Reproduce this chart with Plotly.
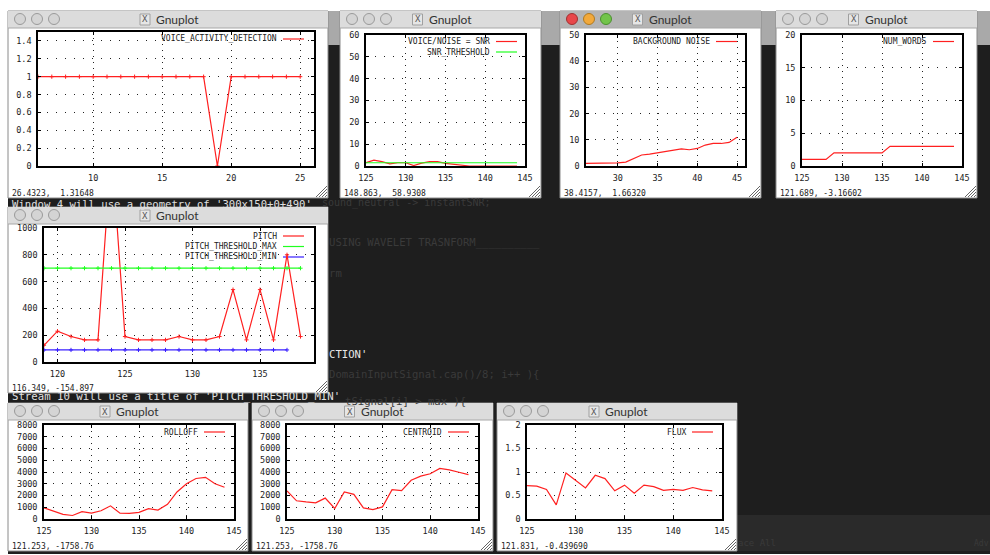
import plotly.graph_objects as go

W, H = 990, 555

# ---- data ----
vad_x = list(range(6, 26))
vad_y = [1] * 13 + [0] + [1] * 6

snr_x = list(range(125, 145))
snr_y = [1.5, 2.7, 2.0, 1.0, 1.5, 1.5, 0.2, 1.3, 2.0, 2.0, 1.2, 0.8, 0.7, 0, 0, 0, 0, 0, 0, 0]
snr_thr = [1.5] * 20

noise_x = list(range(26, 46))
noise_y = [1, 1, 1.2, 1.2, 1.2, 1.5, 2.9, 4.2, 4.5, 5, 5.5, 6, 6.5, 6.2, 6.7, 8, 8.6, 8.6, 9, 11]

words_x = list(range(125, 145))
words_y = [1, 1, 1, 1, 2, 2, 2, 2, 2, 2, 2, 3, 3, 3, 3, 3, 3, 3, 3, 3]

pitch_x = list(range(119, 139))
pitch_y = [125, 230, 190, 165, 165, 1600, 190, 165, 165, 165, 190, 165, 165, 190, 540, 165, 540, 165, 800, 190]
pitch_max = [700] * 20
pitch_min_x = list(range(119, 138))
pitch_min = [90] * 19

spec_x = list(range(125, 145))
rolloff = [950, 700, 400, 300, 620, 500, 700, 1120, 500, 480, 560, 880, 760, 1250, 2300, 3000, 3450, 3550, 3000, 2700]
centroid = [2400, 1550, 1450, 1380, 1780, 900, 2300, 2100, 950, 800, 1030, 2500, 2420, 3300, 3650, 3850, 4300, 4180, 3980, 3780]
flux = [0.71, 0.70, 0.63, 0.30, 0.98, 0.82, 0.66, 0.93, 0.86, 0.60, 0.72, 0.55, 0.72, 0.69, 0.61, 0.63, 0.61, 0.67, 0.62, 0.60]

RED, GREEN, BLUE = "#ff2020", "#20ff20", "#3a20ff"
MONO = "DejaVu Sans Mono"

fig = go.Figure()
shapes, annots = [], []


def px(x):
    return x / W


def py(y):
    return 1 - y / H


def rect(x0, y0, x1, y1, fill, line=None, layer="below"):
    shapes.append(dict(type="rect", xref="paper", yref="paper", x0=px(x0), x1=px(x1), y0=py(y1), y1=py(y0),
                       fillcolor=fill, line=dict(width=1 if line else 0, color=line or fill), layer=layer))


def seg(x0, y0, x1, y1, color, width=1.0, layer="below"):
    shapes.append(dict(type="line", xref="paper", yref="paper", x0=px(x0), x1=px(x1), y0=py(y0), y1=py(y1),
                       line=dict(color=color, width=width), layer=layer))


def text(x, y, s, size=8, color="#222222", anchor="left", family=MONO):
    annots.append(dict(xref="paper", yref="paper", x=px(x), y=py(y), text=s, showarrow=False, xanchor=anchor,
                       yanchor="middle", font=dict(family=family, size=size, color=color), borderpad=0, borderwidth=0))


def circle(cx, cy, r, fill, line):
    shapes.append(dict(type="circle", xref="paper", yref="paper", x0=px(cx - r), x1=px(cx + r), y0=py(cy + r),
                       y1=py(cy - r), fillcolor=fill, line=dict(color=line, width=1), layer="below"))


# ---- desktop backdrop ----
rect(0, 0, W, H, "#ffffff")
rect(8, 11, W, 45, "#a9a9a9")
rect(8, 45, W, 554, "#1e1e1e")
rect(737, 515, W, 551, "#2a2a2a")

FAINT = "#3a3a3a"
TERM = 10.6
text(322, 202.5, "sound_neutral -> instantSNR;", 10, FAINT)
text(329, 243, "USING WAVELET TRASNFORM__________", TERM, FAINT)
text(329, 273, "rm", TERM, FAINT)
text(329, 354, "CTION'", TERM, "#e8e8e8")
text(329, 374, "DomainInputSignal.cap()/8; i++ ){", TERM, FAINT)
text(345, 401, "tSignal[i] > max ){", TERM, FAINT)
text(12, 203.5, "Window 4 will use a geometry of '300x150+0+490'", TERM, "#e0e0e0")
text(12, 396.5, "Stream 10 will use a title of 'PITCH_THRESHOLD_MIN'", 10.7, "#e0e0e0")
text(738, 543, "ace All", 9, FAINT)
text(974, 543, "Adv", 8, FAINT)


def window(x0, y0, x1, y1, status, active=False):
    rect(x0, y0, x1, y1, "#ffffff", "#8a8a8a")
    rect(x0, y0, x1, y0 + 17, "#b4b4b4" if active else "#dcdcdc")
    seg(x0, y0 + 17, x1, y0 + 17, "#a8a8a8")
    colors = ["#e8474a", "#f2a93b", "#72c44a"] if active else ["#d4d4d4"] * 3
    edges = ["#a03030", "#b07a20", "#4c9030"] if active else ["#9a9a9a"] * 3
    for i in range(3):
        circle(x0 + 12 + 17 * i, y0 + 8, 5.5, colors[i], edges[i])
    mid = (x0 + x1) / 2
    rect(mid - 28, y0 + 3, mid - 18, y0 + 14, "#e6e6e6", "#a0a0a0")
    text(mid - 23, y0 + 8.5, "X", 9, "#555555", "center")
    text(mid - 12, y0 + 8.5, "Gnuplot", 12, "#333333", "left", "Lato")
    text(x0 + 4, y1 - 5, status, 8, "#222222")
    for d in (3, 6, 9, 12):
        seg(x1 - d, y1 - 1, x1 - 1, y1 - d, "#666666", 1.0)


panel = 0


def add_panel(box, xr, yr, xticks, yticks, ylabels, traces, legend):
    """box: frame in pixels (x0, y0, x1, y1)"""
    global panel
    panel += 1
    sfx = "" if panel == 1 else str(panel)
    axis = dict(showline=True, mirror="ticks", linecolor="#000000", linewidth=1.6, ticks="inside", ticklen=3,
                tickcolor="#000000", tickwidth=1, showgrid=True, gridcolor="#222222", gridwidth=1,
                zeroline=False, tickfont=dict(family=MONO, size=8.5, color="#222222"), tickmode="array",
                fixedrange=True, automargin=False)
    fig.update_layout({
        "xaxis" + sfx: dict(axis, domain=[px(box[0]), px(box[2])], range=xr, tickvals=xticks, griddash="1px,5px",
                            ticktext=[str(v) for v in xticks], anchor="y" + sfx, ticklabelstandoff=3),
        "yaxis" + sfx: dict(axis, domain=[py(box[3]), py(box[1])], range=yr, tickvals=yticks, griddash="1px,8px",
                            ticktext=ylabels, anchor="x" + sfx, ticklabelstandoff=3),
    })
    for t in traces:
        mode = "lines+markers" if t.get("marker") else "lines"
        fig.add_trace(go.Scatter(x=t["x"], y=t["y"], mode=mode, xaxis="x" + sfx, yaxis="y" + sfx, name=t["name"],
                                 showlegend=False, cliponaxis=True,
                                 line=dict(color=t["color"], width=1.2),
                                 marker=dict(symbol="cross-thin", size=3, line=dict(color=t["color"], width=1))))
    lx, ly, step = legend
    for i, t in enumerate(traces):
        y = box[1] + ly + step * i
        text(box[2] - lx, y, t["name"], 8, "#222222", "right")
        seg(box[2] - lx + 6, y, box[2] - lx + 27, y, t["color"], 1.2)


# ---- windows ----
window(8, 11, 328, 198, "26.4323,  1.31648")
window(340, 11, 541, 198, "148.863,  58.9308")
window(560, 11, 761, 198, "38.4157,  1.66320", active=True)
window(776, 11, 977, 198, "121.689, -3.16602")
window(8, 207, 328, 393, "116.349, -154.897")
window(8, 403, 248, 551, "121.253, -1758.76")
window(252, 403, 493, 551, "121.253, -1758.76")
window(497, 403, 737, 551, "121.831, -0.439690")

add_panel((38, 32, 314, 166), [6, 26], [0, 1.5], [10, 15, 20, 25], [0, .2, .4, .6, .8, 1, 1.2, 1.4],
          ["0", "0.2", "0.4", "0.6", "0.8", "1", "1.2", "1.4"],
          [dict(x=vad_x, y=vad_y, name="VOICE_ACTIVITY_DETECTION", color=RED, marker=True)], (37, 7, 10))
add_panel((366, 35, 525, 166), [125, 145], [0, 60], [125, 130, 135, 140, 145], list(range(0, 61, 10)),
          [str(v) for v in range(0, 61, 10)],
          [dict(x=snr_x, y=snr_y, name="VOICE/NOISE = SNR", color=RED),
           dict(x=snr_x, y=snr_thr, name="SNR_TRHESHOLD", color=GREEN)], (35, 6.5, 10.5))
add_panel((586, 35, 745, 166), [26, 46], [0, 50], [30, 35, 40, 45], list(range(0, 51, 10)),
          [str(v) for v in range(0, 51, 10)],
          [dict(x=noise_x, y=noise_y, name="BACKGROUND NOISE", color=RED)], (35, 6.5, 10))
add_panel((802, 35, 962, 166), [125, 145], [0, 20], [125, 130, 135, 140, 145], [0, 5, 10, 15, 20],
          ["0", "5", "10", "15", "20"],
          [dict(x=words_x, y=words_y, name="NUM_WORDS", color=RED)], (35, 6.5, 10))
add_panel((44, 228, 314, 362), [119, 139], [0, 1000], [120, 125, 130, 135], list(range(0, 1001, 200)),
          [str(v) for v in range(0, 1001, 200)],
          [dict(x=pitch_x, y=pitch_y, name="PITCH", color=RED, marker=True),
           dict(x=pitch_x, y=pitch_max, name="PITCH_THRESHOLD_MAX", color=GREEN, marker=True),
           dict(x=pitch_min_x, y=pitch_min, name="PITCH_THRESHOLD_MIN", color=BLUE, marker=True)], (37, 8, 10.5))
spec_ticks = [125, 130, 135, 140, 145]
k_ticks = list(range(0, 8001, 1000))
add_panel((44, 425, 234, 519), [125, 145], [0, 8000], spec_ticks, k_ticks, [str(v) for v in k_ticks],
          [dict(x=spec_x, y=rolloff, name="ROLLOFF", color=RED)], (36, 7, 10))
add_panel((287, 425, 478, 519), [125, 145], [0, 8000], spec_ticks, k_ticks, [str(v) for v in k_ticks],
          [dict(x=spec_x, y=centroid, name="CENTROID", color=RED)], (36, 7, 10))
add_panel((527, 425, 722, 519), [125, 145], [0, 2], spec_ticks, [0, .5, 1, 1.5, 2], ["0", "0.5", "1", "1.5", "2"],
          [dict(x=spec_x, y=flux, name="FLUX", color=RED)], (36, 7, 10))

fig.update_layout(width=W, height=H, margin=dict(l=0, r=0, t=0, b=0, pad=0, autoexpand=False),
                  paper_bgcolor="#ffffff", plot_bgcolor="rgba(0,0,0,0)", showlegend=False,
                  shapes=shapes, annotations=annots)
fig.write_html("out.html", post_script="document.body.style.margin='0';",
               config=dict(displayModeBar=False))
